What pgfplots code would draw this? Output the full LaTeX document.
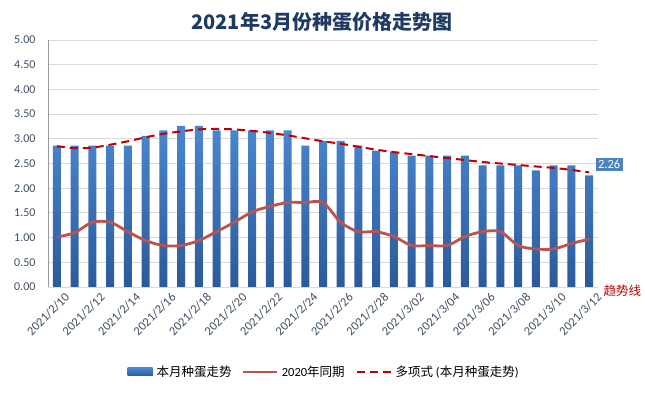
\documentclass[border=0pt]{standalone}
\usepackage{pgfplots}
\pgfplotsset{compat=1.18}
\usepackage{fontspec}
\setmainfont{Carlito}
\newfontfamily\cjk{Noto Sans CJK SC}
\definecolor{barTop}{HTML}{4A86CF}
\definecolor{barBot}{HTML}{2B5A9B}
\definecolor{lineOld}{HTML}{BA544F}
\definecolor{trendRed}{HTML}{C00000}
\definecolor{titleBlue}{HTML}{1F3A63}
\definecolor{tickCol}{HTML}{3F4E63}
\definecolor{gridCol}{HTML}{D9D9D9}
\definecolor{boxBlue}{HTML}{4F81BD}
\begin{document}
\begin{tikzpicture}
\path[use as bounding box] (0,0) rectangle (645pt,393pt);
\begin{axis}[
  at={(48pt,106pt)}, anchor=south west,
  scale only axis, width=550pt, height=247pt,
  xmin=-0.5, xmax=30.5, ymin=0, ymax=5,
  ytick={0,0.5,...,5},
  xtick={0,2,...,30},
  xticklabels={2021/2/10,2021/2/12,2021/2/14,2021/2/16,2021/2/18,2021/2/20,2021/2/22,2021/2/24,2021/2/26,2021/2/28,2021/3/02,2021/3/04,2021/3/06,2021/3/08,2021/3/10,2021/3/12},
  x tick label style={rotate=45, anchor=north east, font=\fontsize{12.5}{13}\selectfont, text=tickCol, xshift=5pt, yshift=-5pt},
  y tick label style={font=\fontsize{12}{13}\selectfont, text=tickCol, xshift=-9pt},
  yticklabel style={/pgf/number format/.cd, fixed, fixed zerofill, precision=2, assume math mode=true},
  /pgf/number format/assume math mode=true,
  ymajorgrids, grid style={gridCol, line width=0.8pt},
  axis x line*=bottom, axis y line*=left,
  x axis line style={draw=none},
  y axis line style={draw=gray!80, line width=0.8pt},
  major tick length=0pt,
  clip=false,
  legend style={at={(0.502,-0.344)}, anchor=center, draw=none, fill=none,
    legend columns=-1, font=\fontsize{12.5}{13}\selectfont,
    /tikz/every even column/.append style={column sep=9pt},
    /tikz/every odd column/.append style={column sep=2pt}},
  legend cell align=left,
]
\addplot[ybar, bar width=8pt, draw=none, top color=barTop, bottom color=barBot,
  legend image code/.code={\fill[barBot!90!barTop] (0pt,-4pt) rectangle (25pt,4pt);}]
  coordinates {(0,2.86)(1,2.86)(2,2.86)(3,2.86)(4,2.86)(5,3.06)(6,3.17)(7,3.26)(8,3.26)(9,3.17)(10,3.17)(11,3.17)(12,3.17)(13,3.17)(14,2.86)(15,2.96)(16,2.96)(17,2.86)(18,2.76)(19,2.74)(20,2.66)(21,2.66)(22,2.66)(23,2.66)(24,2.46)(25,2.46)(26,2.46)(27,2.36)(28,2.46)(29,2.46)(30,2.26)};
\addlegendentry{\cjk 本月种蛋走势}
\addplot[lineOld, line width=2.8pt, smooth, no marks,
  legend image code/.code={\draw[lineOld, line width=1.2pt] (0pt,0pt) -- (34pt,0pt);}]
  coordinates {(0,1.01)(1,1.10)(2,1.31)(3,1.31)(4,1.12)(5,0.94)(6,0.84)(7,0.84)(8,0.94)(9,1.12)(10,1.31)(11,1.52)(12,1.63)(13,1.71)(14,1.71)(15,1.71)(16,1.31)(17,1.12)(18,1.12)(19,1.02)(20,0.84)(21,0.84)(22,0.84)(23,1.02)(24,1.12)(25,1.12)(26,0.84)(27,0.77)(28,0.77)(29,0.88)(30,0.97)};
\addlegendentry{2020{\cjk 年同期}}
\addplot[trendRed, line width=2pt, dash pattern=on 8pt off 5pt, smooth, no marks,
  legend image code/.code={\draw[trendRed, line width=2pt, dash pattern=on 8pt off 5pt] (0pt,0pt) -- (34pt,0pt);}]
  coordinates {(0,2.85)(1,2.81)(2,2.82)(3,2.88)(4,2.95)(5,3.03)(6,3.10)(7,3.15)(8,3.19)(9,3.20)(10,3.19)(11,3.16)(12,3.12)(13,3.07)(14,3.01)(15,2.95)(16,2.90)(17,2.84)(18,2.78)(19,2.73)(20,2.69)(21,2.65)(22,2.61)(23,2.57)(24,2.53)(25,2.50)(26,2.47)(27,2.44)(28,2.41)(29,2.37)(30,2.32)};
\addlegendentry{{\cjk 多项式} ({\cjk 本月种蛋走势})}
\node[fill=boxBlue, text=white, inner sep=2.5pt, font=\fontsize{12.5}{13}\selectfont] at (axis cs:30,2.26) [xshift=20pt, yshift=11pt] {2.26};
\node[text=trendRed, font=\cjk\fontsize{12.5}{13}\selectfont] at (axis cs:31.87,-0.08) {趋势线};
\node[text=titleBlue, font=\cjk\bfseries\fontsize{20}{22}\selectfont] at (axis description cs:0.498,1.073) {2021年3月份种蛋价格走势图};
\end{axis}
\end{tikzpicture}
\end{document}
